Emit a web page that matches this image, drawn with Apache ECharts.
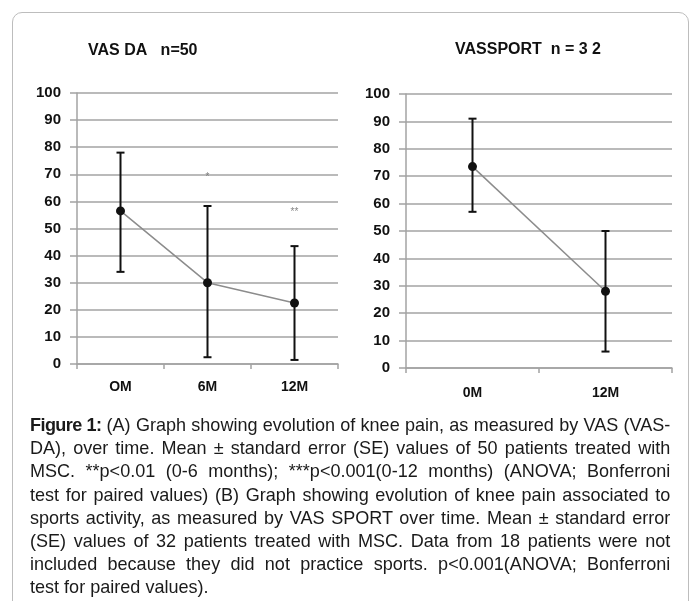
<!DOCTYPE html>
<html>
<head>
<meta charset="utf-8">
<script src="https://cdn.jsdelivr.net/npm/echarts@6/dist/echarts.min.js"></script>
<style>
    html, body { margin: 0; padding: 0; background: #fff; }
    #wrap { position: relative; width: 695px; height: 601px; overflow: hidden; }
    #frame {
        position: absolute; left: 12px; top: 12px; width: 677px; height: 640px;
        border: 1px solid #bdbdbd; border-radius: 10px; box-sizing: border-box;
    }
    #chart { position: absolute; left: 0; top: 0; width: 695px; height: 601px; }
    /* slightly squeezed caption text, justified */
    #caption {
        position: absolute; left: 30px; top: 413px; width: 674px;
        transform: scaleX(0.95); transform-origin: 0 0;
        font-family: "Liberation Sans", Arial, sans-serif;
        font-size: 19px; line-height: 23.2px; color: #1a1a1a;
    }
    #caption b { letter-spacing: -0.6px; }
    #caption div { text-align: justify; text-align-last: justify; white-space: nowrap; }
    #caption div.last { text-align-last: left; }
</style>
</head>
<body>
<div id="wrap">
    <div id="frame"></div>
    <div id="chart"></div>
    <div id="caption"></div>
</div>
<script>
// VAS DA (n=50)
const daMonths = ['OM', '6M', '12M'];
const daMean = [56.5, 30, 22.5];
const daLow = [34, 2.5, 1.5];
const daHigh = [78, 58.3, 43.5];
// significance marks above the bars
const daStars = ['', '*', '**'];
const daStarY = [null, 69, 56];

// VAS SPORT (n=32)
const sportMonths = ['0M', '12M'];
const sportMean = [73.5, 28];
const sportLow = [57, 6];
const sportHigh = [91, 50];

const yTicks = [0, 100, 10];

const captionLines = [
    '<b>Figure 1:</b> (A) Graph showing evolution of knee pain, as measured by VAS (VAS-',
    'DA), over time. Mean ± standard error (SE) values of 50 patients treated with',
    'MSC. **p&lt;0.01 (0-6 months); ***p&lt;0.001(0-12 months) (ANOVA; Bonferroni',
    'test for paired values) (B) Graph showing evolution of knee pain associated to',
    'sports activity, as measured by VAS SPORT over time. Mean ± standard error',
    '(SE) values of 32 patients treated with MSC. Data from 18 patients were not',
    'included because they did not practice sports. p&lt;0.001(ANOVA; Bonferroni',
    'test for paired values).'
];

document.getElementById('caption').innerHTML = captionLines
    .map((l, i) => `<div class="${i === captionLines.length - 1 ? 'last' : ''}">${l}</div>`)
    .join('');

const FONT = '"Liberation Sans", Arial, sans-serif';
const GRID_COLOR = '#a3a3a3';

// 误差线
const errorBarItem = (params, api) => {
    const x = api.value(0);
    const lo = api.coord([x, api.value(1)]);
    const hi = api.coord([x, api.value(2)]);
    const cap = 4;
    const style = { stroke: '#111', lineWidth: 2 };
    return {
        type: 'group',
        children: [
            { type: 'line', shape: { x1: lo[0], y1: lo[1], x2: hi[0], y2: hi[1] }, style },
            { type: 'line', shape: { x1: lo[0] - cap, y1: lo[1], x2: lo[0] + cap, y2: lo[1] }, style },
            { type: 'line', shape: { x1: hi[0] - cap, y1: hi[1], x2: hi[0] + cap, y2: hi[1] }, style }
        ]
    };
};

const makeY = (gridIndex) => ({
    type: 'value',
    gridIndex,
    min: yTicks[0],
    max: yTicks[1],
    interval: yTicks[2],
    axisLabel: { color: '#111', fontFamily: FONT, fontSize: 15, fontWeight: 'bold', margin: 16 },
    axisLine: { show: true, lineStyle: { color: GRID_COLOR, width: 1.5 } },
    axisTick: { show: true, length: 7, lineStyle: { color: GRID_COLOR, width: 1.5 } },
    splitLine: { lineStyle: { color: GRID_COLOR, width: 1.5 } }
});

const makeX = (gridIndex, data, margin) => ({
    type: 'category',
    gridIndex,
    data,
    boundaryGap: true,
    axisLabel: { color: '#111', fontFamily: FONT, fontSize: 14, fontWeight: 'bold', margin },
    axisLine: { show: true, lineStyle: { color: GRID_COLOR, width: 1.5 } },
    axisTick: { show: true, length: 5, lineStyle: { color: GRID_COLOR, width: 1.5 } },
    splitLine: { show: false }
});

const meanSeries = (i, values) => ({
    type: 'line',
    xAxisIndex: i,
    yAxisIndex: i,
    data: values,
    symbol: 'circle',
    symbolSize: 9,
    itemStyle: { color: '#111' },
    lineStyle: { color: '#8c8c8c', width: 1.5 },
    z: 4,
    animation: false
});

const barSeries = (i, lows, highs) => ({
    type: 'custom',
    xAxisIndex: i,
    yAxisIndex: i,
    renderItem: errorBarItem,
    data: lows.map((v, k) => [k, v, highs[k]]),
    z: 3,
    animation: false
});

const chart = echarts.init(document.getElementById('chart'));

const option = {
    backgroundColor: 'transparent',
    animation: false,
    title: [
        { text: 'VAS DA   n=50', left: 83, top: 38, textStyle: { fontFamily: FONT, fontSize: 16, fontWeight: 'bold', color: '#111' } },
        { text: 'VASSPORT  n = 3 2', left: 450, top: 37, textStyle: { fontFamily: FONT, fontSize: 16, fontWeight: 'bold', color: '#111' } }
    ],
    grid: [
        { left: 77, top: 93, width: 261, height: 271 },
        { left: 406, top: 94, width: 266, height: 274 }
    ],
    xAxis: [makeX(0, daMonths, 16), makeX(1, sportMonths, 18)],
    yAxis: [makeY(0), makeY(1)],
    series: [
        barSeries(0, daLow, daHigh),
        meanSeries(0, daMean),
        {
            type: 'scatter',
            xAxisIndex: 0,
            yAxisIndex: 0,
            symbolSize: 0,
            data: daStars.map((s, k) => ({ value: [k, daStarY[k]], label: { formatter: s } })).filter(d => d.value[1] !== null),
            label: { show: true, position: 'inside', color: '#666', fontSize: 10, fontFamily: FONT },
            silent: true
        },
        barSeries(1, sportLow, sportHigh),
        meanSeries(1, sportMean)
    ]
};

chart.setOption(option);
</script>
</body>
</html>
